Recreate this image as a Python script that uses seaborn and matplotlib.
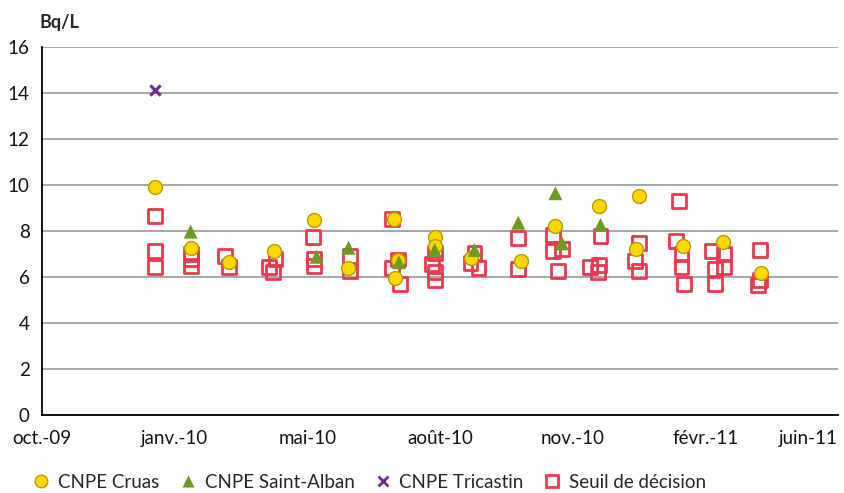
import numpy as np
import pandas as pd
import matplotlib
matplotlib.use("Agg")
import matplotlib.pyplot as plt
import seaborn as sns

# Data (Bq/L)
cruas_dates = ["2010-01-07", "2010-02-03", "2010-03-04", "2010-04-07", "2010-05-07",
               "2010-06-02", "2010-07-06", "2010-07-09", "2010-07-07", "2010-08-06",
               "2010-08-06", "2010-09-02", "2010-10-10", "2010-11-05", "2010-12-08",
               "2011-01-07", "2011-01-05", "2011-02-09", "2011-03-11", "2011-04-09"]
cruas_vals = [9.93, 7.25, 6.64, 7.13, 8.48, 6.39, 8.52, 6.75, 5.97, 7.72,
              7.33, 6.81, 6.71, 8.22, 9.10, 9.52, 7.22, 7.36, 7.51, 6.16]

alban_dates = ["2010-02-03", "2010-05-09", "2010-06-02", "2010-07-10", "2010-08-06",
               "2010-09-05", "2010-10-08", "2010-11-05", "2010-11-10", "2010-12-09"]
alban_vals = [7.97, 6.88, 7.27, 6.64, 7.17, 7.17, 8.36, 9.64, 7.46, 8.26]

tric_dates = ["2010-01-07"]
tric_vals = [14.13]

seuil_dates = ["2010-01-07", "2010-01-07", "2010-01-07",
               "2010-02-03", "2010-02-03", "2010-02-03",
               "2010-03-01", "2010-03-04",
               "2010-04-08", "2010-04-03", "2010-04-06",
               "2010-05-06", "2010-05-07", "2010-05-07",
               "2010-06-03", "2010-06-03",
               "2010-07-05", "2010-07-09", "2010-07-05", "2010-07-11",
               "2010-08-06", "2010-08-04", "2010-08-06", "2010-08-06",
               "2010-09-05", "2010-09-02", "2010-09-08",
               "2010-10-08", "2010-10-08",
               "2010-11-03", "2010-11-03", "2010-11-10", "2010-11-07",
               "2010-12-09", "2010-12-01", "2010-12-08", "2010-12-07",
               "2011-01-07", "2011-01-04", "2011-01-07",
               "2011-02-06", "2011-02-04", "2011-02-08", "2011-02-08", "2011-02-10",
               "2011-03-03", "2011-03-12", "2011-03-12", "2011-03-05", "2011-03-05",
               "2011-04-08", "2011-04-08", "2011-04-07"]
seuil_vals = [8.65, 7.14, 6.45,
              6.99, 6.80, 6.49,
              6.91, 6.45,
              6.77, 6.45, 6.23,
              7.75, 6.78, 6.48,
              6.93, 6.26,
              8.54, 6.76, 6.38, 5.68,
              7.05, 6.57, 6.23, 5.87,
              7.03, 6.59, 6.38,
              7.68, 6.33,
              7.83, 7.13, 7.20, 6.26,
              7.78, 6.45, 6.52, 6.23,
              7.49, 6.70, 6.26,
              9.30, 7.58, 6.99, 6.45, 5.70,
              7.13, 6.99, 6.45, 6.35, 5.70,
              7.17, 5.87, 5.65]

tick_dates = ["2009-10-14", "2010-01-22", "2010-05-02", "2010-08-10",
              "2010-11-18", "2011-02-26", "2011-06-06"]
tick_labels = ["oct.-09", "janv.-10", "mai-10", "août-10", "nov.-10", "févr.-11", "juin-11"]

sns.set_style("white")
plt.rcParams['font.family'] = ['Lato', 'DejaVu Sans']

fig = plt.figure(figsize=(8.44, 4.93), dpi=100)
ax = fig.add_axes([0.0498, 0.1582, 0.9431, 0.7465])

seuil = pd.DataFrame({"date": pd.to_datetime(seuil_dates), "val": seuil_vals})
cruas = pd.DataFrame({"date": pd.to_datetime(cruas_dates), "val": cruas_vals})
alban = pd.DataFrame({"date": pd.to_datetime(alban_dates), "val": alban_vals})
tric = pd.DataFrame({"date": pd.to_datetime(tric_dates), "val": tric_vals})

sns.scatterplot(data=seuil, x="date", y="val", ax=ax, marker="s", s=100,
                facecolor="none", edgecolor="#E8394F", linewidth=2.0, zorder=3)
sns.scatterplot(data=cruas, x="date", y="val", ax=ax, marker="o", s=100,
                color="#FFD700", edgecolor="#B89A00", linewidth=1.0, zorder=4)
sns.scatterplot(data=alban, x="date", y="val", ax=ax, marker="^", s=100,
                color="#6E9A1E", edgecolor="none", zorder=5)
sns.scatterplot(data=tric, x="date", y="val", ax=ax, marker="x", s=55,
                color="#6A2C8E", linewidth=2.2, zorder=6)

ax.set_xlim(pd.Timestamp(tick_dates[0]), pd.Timestamp(tick_dates[-1]))
ax.set_ylim(0, 16)
ax.set_xticks(pd.to_datetime(tick_dates))
ax.set_xticklabels(tick_labels)
ax.get_xticklabels()[-1].set_horizontalalignment("right")
ax.get_xticklabels()[-1].set_x(0)
ax.set_yticks(np.arange(0, 17, 2))
ax.yaxis.grid(True, color="#A6A6A6", linewidth=1.4)
ax.xaxis.grid(False)
ax.set_axisbelow(True)
for side in ["top", "right"]:
    ax.spines[side].set_visible(False)
ax.spines["left"].set_color("black")
ax.spines["bottom"].set_color("black")
ax.spines["left"].set_linewidth(1.3)
ax.spines["bottom"].set_linewidth(1.3)
ax.tick_params(axis="both", which="major", direction="out", length=5, width=1.2,
               color="black", labelsize=13.5, labelcolor="#111111")
ax.tick_params(axis="x", pad=6)
ax.tick_params(axis="y", pad=4)
ax.set_xlabel("")
ax.set_ylabel("")

fig.text(0.047, 0.937, "Bq/L", fontsize=13, fontweight="bold", ha="left", va="bottom")

handles = [
    plt.Line2D([], [], linestyle="none", marker="o", markersize=9,
               markerfacecolor="#FFD700", markeredgecolor="#B89A00"),
    plt.Line2D([], [], linestyle="none", marker="^", markersize=9,
               markerfacecolor="#6E9A1E", markeredgecolor="none"),
    plt.Line2D([], [], linestyle="none", marker="x", markersize=7,
               markeredgecolor="#6A2C8E", markeredgewidth=2),
    plt.Line2D([], [], linestyle="none", marker="s", markersize=8,
               markerfacecolor="none", markeredgecolor="#E8394F", markeredgewidth=2),
]
labels = ["CNPE Cruas", "CNPE Saint-Alban", "CNPE Tricastin", "Seuil de décision"]
fig.legend(handles, labels, loc="lower left", bbox_to_anchor=(0.018, -0.03), ncol=4,
           frameon=False, fontsize=13.5, handletextpad=0.4, columnspacing=1.0,
           handlelength=1.0)

fig.savefig("out.png", dpi=100)
